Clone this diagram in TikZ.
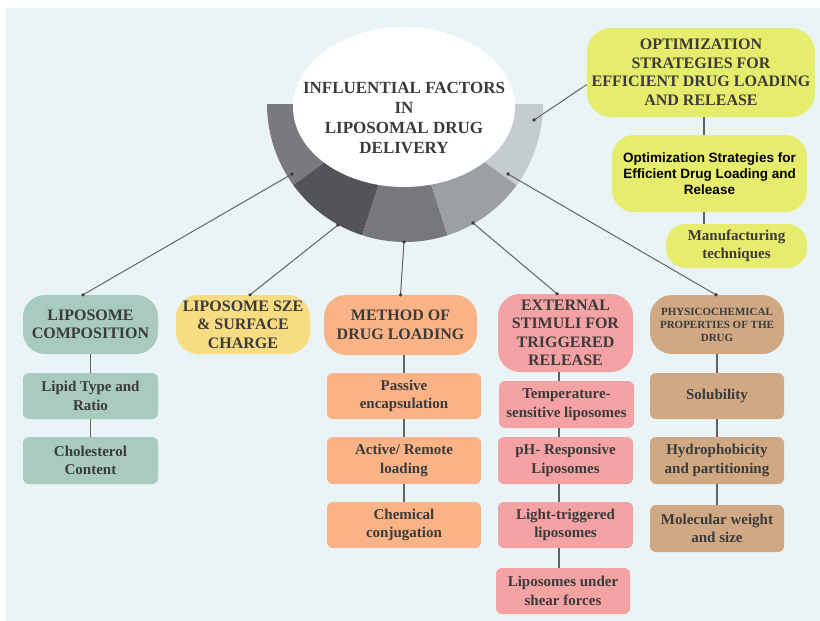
\documentclass[tikz,border=0pt]{standalone}
\usepackage{fontspec}
\setmainfont{Liberation Serif}
\newfontfamily\sansb{Liberation Sans}
\usetikzlibrary{shapes.geometric,calc}
\definecolor{bgc}{HTML}{EAF4F6}
\definecolor{txt}{HTML}{3B3B3B}
\definecolor{lnc}{HTML}{626262}
\definecolor{grn}{HTML}{A8CBBD}
\definecolor{ylw}{HTML}{F7DC82}
\definecolor{org}{HTML}{F9B386}
\definecolor{pnk}{HTML}{F4A2A4}
\definecolor{tan}{HTML}{D0A984}
\definecolor{lim}{HTML}{E6EC6B}
\definecolor{sga}{HTML}{7A797E}
\definecolor{sgb}{HTML}{545357}
\definecolor{sgc}{HTML}{78787C}
\definecolor{sgd}{HTML}{9C9FA3}
\definecolor{sge}{HTML}{C5CCCF}
\tikzset{
  head/.style={rounded corners=22pt, text=txt, align=center, inner sep=2pt,
    font=\bfseries\fontsize{16}{18.5}\selectfont},
  sub/.style={rounded corners=6pt, text=txt, align=center, inner sep=2pt,
    font=\bfseries\fontsize{15}{18.5}\selectfont},
  conn/.style={draw=lnc, line width=1pt},
  vconn/.style={draw=lnc, line width=1.1pt},
  dotc/.style={fill=txt}
}
\begin{document}
\begin{tikzpicture}[x=1pt,y=-1pt]
\useasboundingbox (0,0) rectangle (820,621);
\fill[white] (0,0) rectangle (820,621);
\fill[bgc] (6,8) rectangle (820,621);

% half ring
\coordinate (ctr) at (405,104);
\fill[sga] (ctr) -- ++(180:138) arc[start angle=180, end angle=144, radius=138] -- cycle;
\fill[sgb] (ctr) -- ++(144:138) arc[start angle=144, end angle=108, radius=138] -- cycle;
\fill[sgc] (ctr) -- ++(108:138) arc[start angle=108, end angle=72, radius=138] -- cycle;
\fill[sgd] (ctr) -- ++(72:138) arc[start angle=72, end angle=36, radius=138] -- cycle;
\fill[sge] (ctr) -- ++(36:138) arc[start angle=36, end angle=0, radius=138] -- cycle;

\fill[white] (404,107) ellipse[x radius=111, y radius=80];
\node[text=txt, align=center, inner sep=0pt, font=\bfseries\fontsize{17}{20}\selectfont]
  (title) at (404,118) {INFLUENTIAL FACTORS\\IN\\LIPOSOMAL DRUG\\DELIVERY};

% column 1
\node[head, fill=grn, minimum width=135pt, minimum height=59pt] (c1h) at (90.5,324.5) {LIPOSOME\\COMPOSITION};
\node[sub, fill=grn, minimum width=135pt, minimum height=46pt] (c1a) at (90.5,396) {Lipid Type and\\Ratio};
\node[sub, fill=grn, minimum width=135pt, minimum height=47pt] (c1b) at (90.5,460.5) {Cholesterol\\Content};
% column 2
\node[head, fill=ylw, minimum width=134pt, minimum height=59pt] (c2h) at (243,324.5) {LIPOSOME SZE\\\& SURFACE\\CHARGE};
% column 3
\node[head, fill=org, minimum width=153pt, minimum height=60pt] (c3h) at (400.5,325) {METHOD OF\\DRUG LOADING};
\node[sub, fill=org, minimum width=154pt, minimum height=46pt] (c3a) at (404,396) {Passive\\encapsulation};
\node[sub, fill=org, minimum width=154pt, minimum height=47pt] (c3b) at (404,460.5) {Active/ Remote\\loading};
\node[sub, fill=org, minimum width=154pt, minimum height=46pt] (c3c) at (404,525) {Chemical\\conjugation};
% column 4
\node[head, fill=pnk, minimum width=135pt, minimum height=78pt] (c4h) at (565.5,333) {EXTERNAL\\STIMULI FOR\\TRIGGERED\\RELEASE};
\node[sub, fill=pnk, minimum width=135pt, minimum height=47pt] (c4a) at (566.5,404.5) {Temperature-\\sensitive liposomes};
\node[sub, fill=pnk, minimum width=135pt, minimum height=47pt] (c4b) at (565.5,460.5) {pH- Responsive\\Liposomes};
\node[sub, fill=pnk, minimum width=135pt, minimum height=46pt] (c4c) at (565.5,525) {Light-triggered\\liposomes};
\node[sub, fill=pnk, minimum width=134pt, minimum height=46pt] (c4d) at (563,591) {Liposomes under\\shear forces};
% column 5
\node[head, fill=tan, minimum width=134pt, minimum height=59pt, font=\bfseries\fontsize{11}{13}\selectfont] (c5h) at (717,324.5) {PHYSICOCHEMICAL\\PROPERTIES OF THE\\DRUG};
\node[sub, fill=tan, minimum width=134pt, minimum height=46pt] (c5a) at (717,396) {Solubility};
\node[sub, fill=tan, minimum width=134pt, minimum height=47pt] (c5b) at (717,460.5) {Hydrophobicity\\and partitioning};
\node[sub, fill=tan, minimum width=134pt, minimum height=47pt] (c5c) at (717,528.5) {Molecular weight\\and size};
% top right
\node[head, fill=lim, rounded corners=24pt, minimum width=228pt, minimum height=89pt] (o1) at (701,72.5) {OPTIMIZATION\\STRATEGIES FOR\\EFFICIENT DRUG LOADING\\AND RELEASE};
\node[head, fill=lim, minimum width=195pt, minimum height=77pt, text=black,
  font=\sansb\bfseries\fontsize{13.5}{16.3}\selectfont] (o2) at (709.5,173.5) {Optimization Strategies for\\Efficient Drug Loading and\\Release};
\node[head, fill=lim, rounded corners=20pt, minimum width=141pt, minimum height=44pt,
  font=\bfseries\fontsize{15}{18.5}\selectfont] (o3) at (736.5,246) {Manufacturing\\techniques};

% vertical connectors
\draw[vconn] (c1h.south) -- (c1a.north);
\draw[vconn] (c1a.south) -- (c1b.north);
\draw[vconn] (c3a.north |- c3h.south) -- (c3a.north);
\draw[vconn] (c3a.south) -- (c3b.north);
\draw[vconn] (c3b.south) -- (c3c.north);
\draw[vconn] ([xshift=-6.5pt]c4h.south) -- ([xshift=-7.5pt]c4a.north);
\draw[vconn] ([xshift=-7.5pt]c4a.south) -- ([xshift=-6.5pt]c4b.north);
\draw[vconn] ([xshift=-6.5pt]c4b.south) -- ([xshift=-6.5pt]c4c.north);
\draw[vconn] ([xshift=-6.5pt]c4c.south) -- ([xshift=-4pt]c4d.north);
\draw[vconn] (c5h.south) -- (c5a.north);
\draw[vconn] (c5a.south) -- (c5b.north);
\draw[vconn] (c5b.south) -- (c5c.north);
\draw[vconn] ([xshift=3pt]o1.south) -- ([xshift=-5.5pt]o2.north);
\draw[vconn] ([xshift=-5.5pt]o2.south) -- ([xshift=-32.5pt]o3.north);

% ring connectors
\coordinate (r1) at (292,174);
\coordinate (r2) at (338,225);
\coordinate (r3) at (404,242);
\coordinate (r4) at (473,223);
\coordinate (r5) at (508,174);
\coordinate (r6) at (534,120);
\coordinate (e1) at ([xshift=-7.5pt]c1h.north);
\coordinate (e2) at ([xshift=7pt]c2h.north);
\coordinate (e3) at (c3h.north);
\coordinate (e4) at ([xshift=-8.5pt]c4h.north);
\coordinate (e5) at ([xshift=-1pt]c5h.north);
\coordinate (e6) at ([yshift=-12pt]o1.west);
\draw[conn] (r1) -- (e1);
\draw[conn] (r2) -- (e2);
\draw[conn] (r3) -- (e3);
\draw[conn] (r4) -- (e4);
\draw[conn] (r5) -- (e5);
\draw[conn] (r6) -- (e6);
\foreach \p in {r1,r2,r3,r4,r5,r6,e1,e2,e3,e4,e5}
  \fill[dotc] (\p) circle[radius=1.8pt];
\end{tikzpicture}
\end{document}
